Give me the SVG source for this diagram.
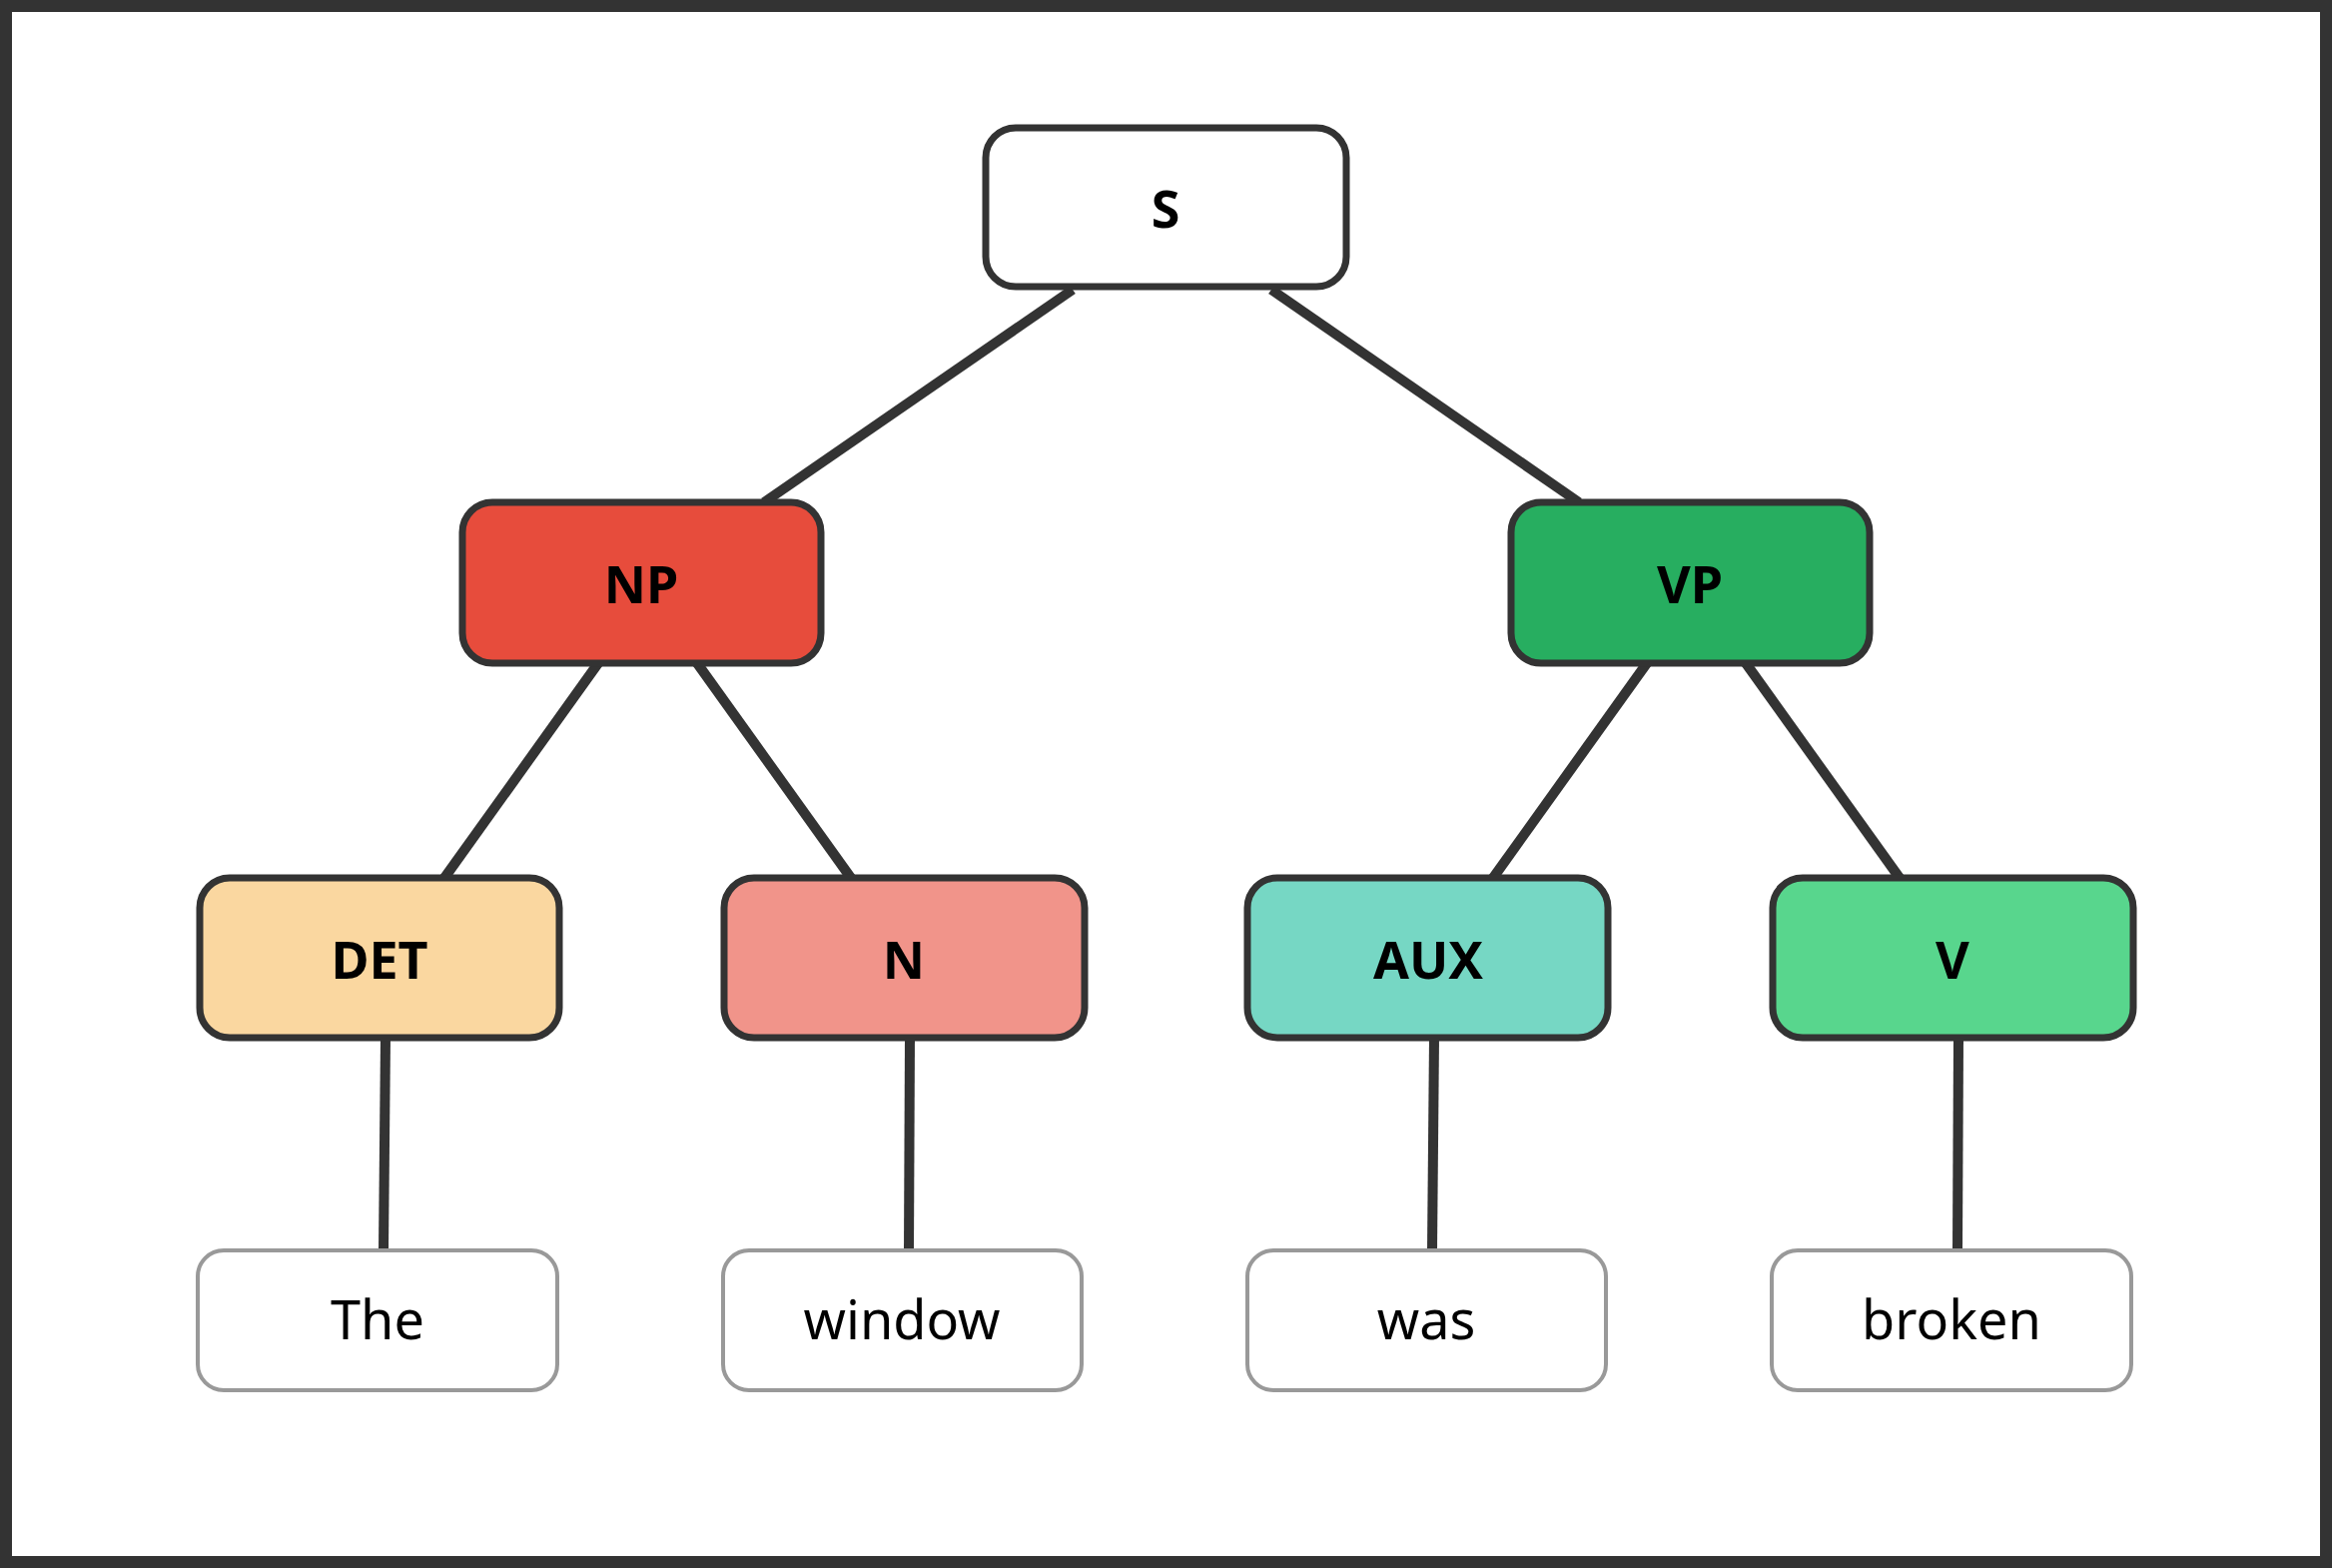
<svg xmlns="http://www.w3.org/2000/svg" width="2335" height="1570" viewBox="0 0 2335 1570">
<style>
.n{stroke:#333;stroke-width:7}
.l{fill:#fff;stroke:#999;stroke-width:4}
.t{font-family:"Noto Sans","Open Sans",sans-serif;font-weight:bold;font-size:52px;fill:#000;text-anchor:middle;dominant-baseline:central}
.w{font-family:"Noto Sans","Open Sans",sans-serif;font-size:54px;fill:#000;text-anchor:middle;dominant-baseline:central}
#edges line{stroke:#333;stroke-width:10}
</style>
<rect x="0" y="0" width="2335" height="1570" fill="#fff"/>
<rect x="6" y="6" width="2323" height="1558" fill="none" stroke="#333" stroke-width="12"/>
<g id="edges">
<line x1="1074" y1="290" x2="765" y2="503"/>
<line x1="1273" y1="290" x2="1581" y2="503"/>
<line x1="599" y1="664" x2="445" y2="879"/>
<line x1="698" y1="664" x2="852" y2="879"/>
<line x1="1649" y1="664" x2="1495" y2="879"/>
<line x1="1748" y1="664" x2="1902" y2="879"/>
<line x1="386" y1="1039" x2="384" y2="1252"/>
<line x1="911" y1="1039" x2="910" y2="1252"/>
<line x1="1436" y1="1039" x2="1434" y2="1252"/>
<line x1="1961" y1="1039" x2="1960" y2="1252"/>
</g>
<g id="S"><rect class="n" x="987" y="128" width="361" height="159" rx="30" fill="#fff"/><text class="t" x="1167" y="207">S</text></g>
<g id="NP"><rect class="n" x="463" y="503" width="359" height="161" rx="30" fill="#e74c3c"/><text class="t" x="642" y="583">NP</text></g>
<g id="VP"><rect class="n" x="1513" y="503" width="359" height="161" rx="30" fill="#27ae60"/><text class="t" x="1692" y="583">VP</text></g>
<g id="DET"><rect class="n" x="200" y="879" width="360" height="160" rx="30" fill="#fad7a0"/><text class="t" x="380" y="959">DET</text></g>
<g id="N"><rect class="n" x="725" y="879" width="361" height="160" rx="30" fill="#f1948a"/><text class="t" x="905" y="959">N</text></g>
<g id="AUX"><rect class="n" x="1249" y="879" width="361" height="160" rx="30" fill="#76d7c4"/><text class="t" x="1430" y="959">AUX</text></g>
<g id="V"><rect class="n" x="1775" y="879" width="361" height="160" rx="30" fill="#58d68d"/><text class="t" x="1955" y="959">V</text></g>
<g id="The"><rect class="l" x="198" y="1252" width="360" height="140" rx="26"/><text class="w" x="378" y="1320">The</text></g>
<g id="window"><rect class="l" x="724" y="1252" width="359" height="140" rx="26"/><text class="w" x="903" y="1320">window</text></g>
<g id="was"><rect class="l" x="1249" y="1252" width="359" height="140" rx="26"/><text class="w" x="1428" y="1320">was</text></g>
<g id="broken"><rect class="l" x="1774" y="1252" width="360" height="140" rx="26"/><text class="w" x="1954" y="1320">broken</text></g>
</svg>
